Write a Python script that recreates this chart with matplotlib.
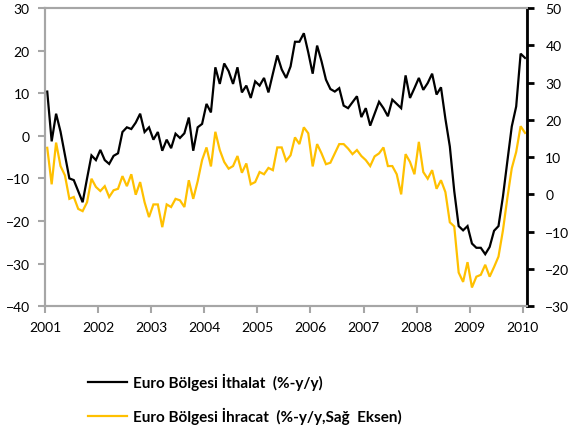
import numpy as np
import matplotlib
matplotlib.use("Agg")
import matplotlib.pyplot as plt
from matplotlib.lines import Line2D

plt.rcParams['font.family'] = ['Lato', 'DejaVu Sans']

# aylik seriler, Ocak 2001 - Ocak 2010
ithalat = [10.4, -1.3, 5.2, 1.0, -4.5, -10.0, -10.4, -13.0, -15.6, -10.0, -4.6, -5.7,
           -3.3, -5.7, -6.6, -4.7, -4.1, 0.9, 2.0, 1.6, 3.1, 5.2, 0.9, 2.0,
           -0.9, 0.9, -3.5, -0.9, -2.9, 0.5, -0.5, 0.6, 4.3, -3.5, 2.0, 2.8,
           7.5, 5.5, 16.1, 12.2, 17.0, 15.2, 12.2, 16.1, 10.2, 11.8, 8.9, 12.8,
           11.8, 13.6, 10.2, 14.6, 18.9, 15.6, 13.6, 16.3, 22.1, 22.1, 24.1, 19.6,
           14.6, 21.2, 17.5, 13.2, 11.0, 10.4, 11.2, 7.1, 6.5, 7.9, 9.3, 4.4,
           6.5, 2.4, 5.2, 8.0, 6.5, 4.6, 8.5, 7.5, 6.5, 14.2, 8.9, 11.2,
           13.6, 10.8, 12.4, 14.6, 9.7, 11.4, 4.0, -2.5, -13.0, -21.2, -22.2, -21.2,
           -25.3, -26.3, -26.3, -27.8, -26.1, -22.3, -21.2, -14.3, -6.0, 2.2, 6.9, 19.3,
           18.3]

ihracat = [12.5, 2.7, 13.9, 7.6, 5.1, -1.2, -0.7, -3.9, -4.5, -2.1, 4.2, 2.0,
           0.9, 2.2, -0.7, 1.1, 1.5, 4.9, 2.2, 5.4, -0.1, 3.3, -2.1, -6.1,
           -2.7, -2.7, -8.8, -2.7, -3.4, -1.2, -1.6, -3.4, 3.8, -1.2, 3.5, 9.2,
           12.6, 7.5, 16.8, 11.9, 8.7, 6.9, 7.6, 10.3, 5.8, 8.3, 2.7, 3.3,
           6.0, 5.4, 7.1, 6.5, 12.6, 12.6, 9.0, 10.5, 15.3, 13.5, 18.0, 16.4,
           7.5, 13.5, 11.0, 8.1, 8.5, 11.0, 13.5, 13.5, 12.3, 10.8, 11.9, 10.3,
           9.2, 7.6, 10.2, 11.0, 12.6, 7.6, 7.6, 5.4, 0.0, 10.8, 8.7, 5.4,
           14.1, 6.0, 4.2, 6.5, 1.5, 3.8, 0.6, -7.5, -8.6, -21.0, -23.5, -18.2,
           -25.0, -22.1, -21.6, -18.9, -22.1, -19.5, -16.7, -9.7, -1.0, 7.0, 11.4, 18.3,
           16.5]

yillar = [str(y) for y in range(2001, 2011)]

etiket1 = "Euro Bölgesi İthalat  (%-y/y)"
etiket2 = "Euro Bölgesi İhracat  (%-y/y,Sağ  Eksen)"

siyah = "#000000"
sari = "#FFC000"
gri = "#A6A6A6"

x = np.arange(len(ithalat)) + 0.5

fig = plt.figure(figsize=(5.7, 4.35), dpi=100)
ax = fig.add_axes([0.079, 0.294, 0.846, 0.685])
ax2 = ax.twinx()

ax.plot(x, ithalat, color=siyah, lw=1.6, solid_joinstyle="miter")
ax2.plot(x, ihracat, color=sari, lw=1.6, solid_joinstyle="miter")

ax.set_xlim(0, 109)
ax.set_ylim(-40, 30)
ax2.set_ylim(-30, 50)
ax.set_yticks(range(-40, 31, 10))
ax2.set_yticks(range(-30, 51, 10))
ax.set_xticks(np.arange(0, 109, 12))
ax.set_xticklabels(yillar)

for a in (ax, ax2):
    for s in a.spines.values():
        s.set_color(gri)
        s.set_linewidth(1.5)
ax2.spines['right'].set_color(siyah)
ax2.spines['right'].set_linewidth(2)

ax.tick_params(axis='y', direction='out', length=5, width=1.5, color=gri,
               labelsize=10, pad=6)
ax.tick_params(axis='x', direction='out', length=5, width=1.5, color=gri,
               labelsize=10, pad=6)
ax2.tick_params(axis='y', direction='out', length=5, width=2, color=siyah,
                labelsize=10, pad=8)

tutamak = [Line2D([], [], color=siyah, lw=1.6), Line2D([], [], color=sari, lw=1.6)]
fig.legend(tutamak, [etiket1, etiket2], loc='upper left',
           bbox_to_anchor=(0.155, 0.140), frameon=False, borderpad=0,
           borderaxespad=0, handlelength=2.5, handletextpad=0.45,
           labelspacing=1.1, prop={'weight': 'bold', 'size': 11})

fig.savefig("out.png", dpi=100)
